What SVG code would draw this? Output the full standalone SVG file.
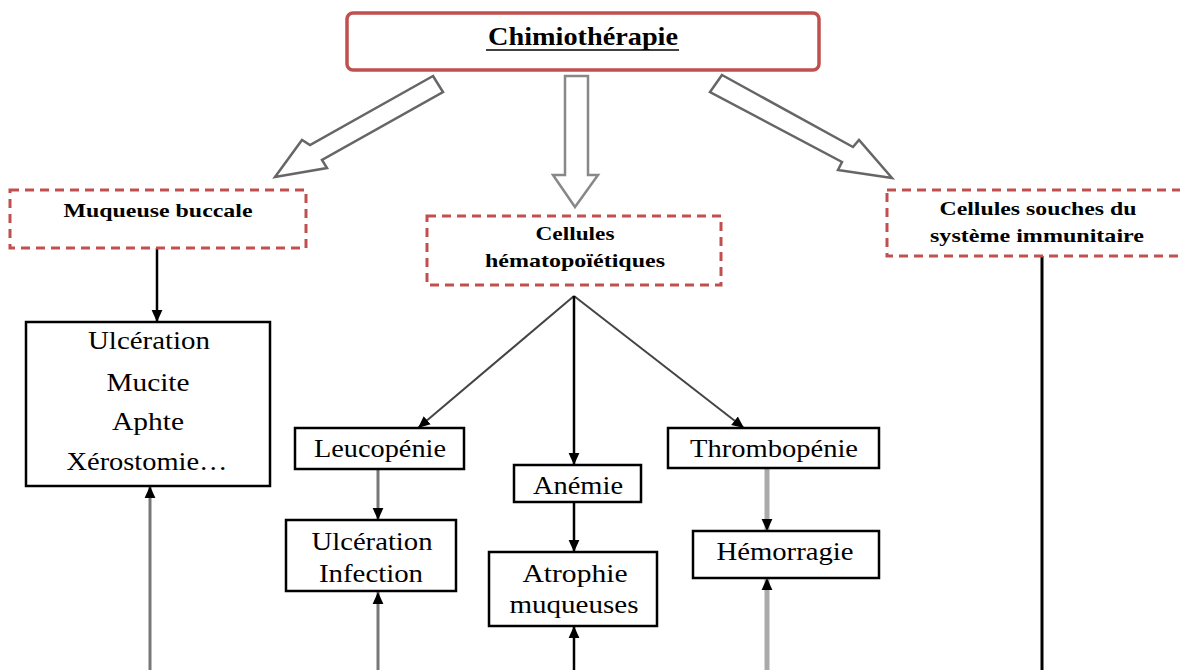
<svg xmlns="http://www.w3.org/2000/svg" width="1180" height="670" viewBox="0 0 1180 670">
<defs>
<marker id="ah" markerUnits="userSpaceOnUse" markerWidth="12" markerHeight="12" viewBox="0 0 10 10" refX="10" refY="5" orient="auto">
<path d="M0,0.5 L10,5 L0,9.5 Z" fill="#000"/>
</marker>
<style>
.dash{fill:#fff;stroke:#c0504d;stroke-width:3;stroke-dasharray:9 6}
.box{fill:#fff;stroke:#000;stroke-width:2.5}
.t{font-family:"Liberation Serif","Times New Roman",serif;font-size:25px;fill:#000;text-anchor:middle}
.b{font-family:"Liberation Serif","Times New Roman",serif;font-size:19px;font-weight:bold;fill:#000;text-anchor:middle}
.blk{fill:#fff;stroke:#666;stroke-width:2.5;stroke-linejoin:miter}
.ln{stroke:#000;stroke-width:2.5;fill:none}
.g1{stroke:#777;stroke-width:3;fill:none}
.g2{stroke:#aaa;stroke-width:5;fill:none}
.dg{stroke:#444;stroke-width:2;fill:none}
</style>
</defs>
<rect width="1180" height="670" fill="#fff"/>

<g id="connectors">
<polygon class="blk" points="433,76 310,145 302,140 275,177 327,168 322,160 443,92"/>
<polygon class="blk" points="565,76 588,76 588,175 598,175 575,207 553,175 565,175" style="stroke:#888"/>
<polygon class="blk" points="722,75 853,147 859,140 892,178 838,170 842,162 710,92"/>
<line class="ln" x1="157" y1="248" x2="157" y2="322" marker-end="url(#ah)"/>
<line class="g1" x1="150" y1="670" x2="150" y2="486" marker-end="url(#ah)"/>
<line class="dg" x1="574" y1="296" x2="418" y2="428" marker-end="url(#ah)"/>
<line class="dg" x1="574" y1="296" x2="744" y2="428" marker-end="url(#ah)"/>
<line class="ln" x1="574" y1="296" x2="574" y2="465" marker-end="url(#ah)"/>
<line class="g1" x1="378" y1="470" x2="378" y2="520" marker-end="url(#ah)"/>
<line class="g1" x1="378" y1="670" x2="378" y2="592" marker-end="url(#ah)"/>
<line class="ln" x1="574" y1="502" x2="574" y2="552" marker-end="url(#ah)"/>
<line class="ln" x1="574" y1="670" x2="574" y2="626" marker-end="url(#ah)"/>
<line class="g2" x1="767" y1="468" x2="767" y2="531" marker-end="url(#ah)"/>
<line class="g2" x1="767" y1="670" x2="767" y2="578" marker-end="url(#ah)"/>
<line class="ln" x1="1042" y1="256" x2="1042" y2="670" style="stroke-width:3"/>
</g>

<g id="chimio">
<rect x="347" y="13" width="472" height="57" rx="6" fill="#fff" stroke="#c0504d" stroke-width="3.5"/>
<text x="583" y="45" class="b" style="font-size:25px" textLength="190" lengthAdjust="spacingAndGlyphs">Chimiothérapie</text>
<line x1="486" y1="50" x2="679" y2="50" stroke="#000" stroke-width="1.5"/>
</g>

<g id="muqueuse">
<rect class="dash" x="10" y="190" width="296" height="58"/>
<text x="158" y="217" class="b" textLength="189" lengthAdjust="spacingAndGlyphs">Muqueuse buccale</text>
</g>

<g id="hemato">
<rect class="dash" x="427" y="216" width="294" height="69"/>
<text x="575" y="240" class="b" textLength="79" lengthAdjust="spacingAndGlyphs">Cellules</text>
<text x="575" y="267" class="b" textLength="180" lengthAdjust="spacingAndGlyphs">hématopoïétiques</text>
</g>

<g id="souches">
<rect class="dash" x="887" y="190" width="300" height="66"/>
<text x="1038" y="215" class="b" textLength="197" lengthAdjust="spacingAndGlyphs">Cellules souches du</text>
<text x="1037" y="242" class="b" textLength="214" lengthAdjust="spacingAndGlyphs">système immunitaire</text>
</g>

<g id="ulceration-list">
<rect class="box" x="26" y="322" width="244" height="164"/>
<text x="149" y="349" class="t" textLength="122" lengthAdjust="spacingAndGlyphs">Ulcération</text>
<text x="148" y="391" class="t" textLength="83" lengthAdjust="spacingAndGlyphs">Mucite</text>
<text x="148" y="430" class="t" textLength="72" lengthAdjust="spacingAndGlyphs">Aphte</text>
<text x="147" y="470" class="t" textLength="161" lengthAdjust="spacingAndGlyphs">Xérostomie…</text>
</g>

<g id="leucopenie">
<rect class="box" x="295" y="428" width="169" height="41"/>
<text x="380" y="457" class="t" textLength="132" lengthAdjust="spacingAndGlyphs">Leucopénie</text>
</g>

<g id="ulceration-infection">
<rect class="box" x="286" y="520" width="170" height="71"/>
<text x="372" y="550" class="t" textLength="121" lengthAdjust="spacingAndGlyphs">Ulcération</text>
<text x="371" y="582" class="t" textLength="104" lengthAdjust="spacingAndGlyphs">Infection</text>
</g>

<g id="anemie">
<rect class="box" x="514" y="465" width="127" height="37"/>
<text x="578" y="494" class="t" textLength="90" lengthAdjust="spacingAndGlyphs">Anémie</text>
</g>

<g id="atrophie">
<rect class="box" x="489" y="552" width="168" height="74"/>
<text x="575" y="582" class="t" textLength="105" lengthAdjust="spacingAndGlyphs">Atrophie</text>
<text x="574" y="613" class="t" textLength="129" lengthAdjust="spacingAndGlyphs">muqueuses</text>
</g>

<g id="thrombopenie">
<rect class="box" x="668" y="428" width="211" height="40"/>
<text x="774" y="457" class="t" textLength="168" lengthAdjust="spacingAndGlyphs">Thrombopénie</text>
</g>

<g id="hemorragie">
<rect class="box" x="693" y="531" width="186" height="47"/>
<text x="785" y="560" class="t" textLength="137" lengthAdjust="spacingAndGlyphs">Hémorragie</text>
</g>
</svg>
